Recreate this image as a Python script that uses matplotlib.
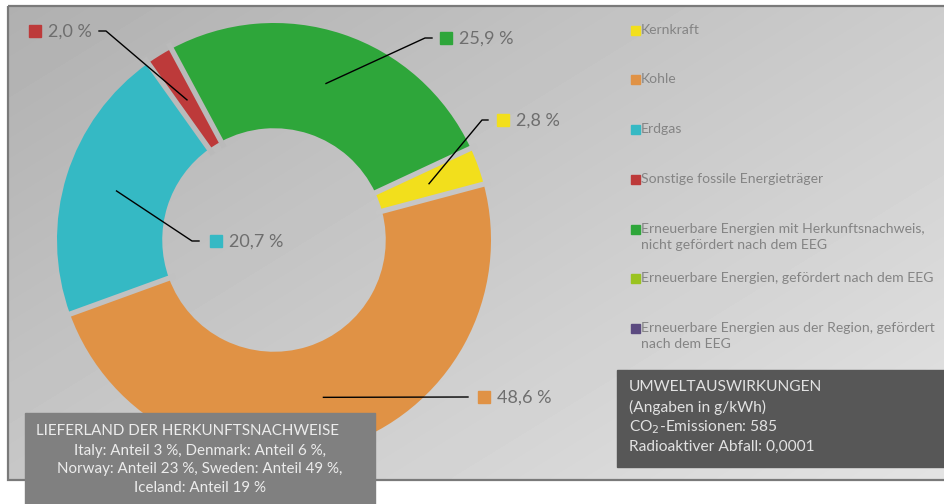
import numpy as np
import matplotlib
matplotlib.use("Agg")
import matplotlib.pyplot as plt
from matplotlib.patches import Rectangle

plt.rcParams['font.family'] = ['Lato', 'DejaVu Sans']

# ---- data ----
categories = [
    "Kernkraft",
    "Kohle",
    "Erdgas",
    "Sonstige fossile Energieträger",
    "Erneuerbare Energien mit Herkunftsnachweis,\nnicht gefördert nach dem EEG",
    "Erneuerbare Energien, gefördert nach dem EEG",
    "Erneuerbare Energien aus der Region, gefördert\nnach dem EEG",
]
values = [2.8, 48.6, 20.7, 2.0, 25.9, 0.0, 0.0]
colors = ["#f2df1c", "#e09245", "#35b9c4", "#bd3a3a", "#2ea63a", "#9ac31f", "#5b4a80"]
value_labels = ["2,8 %", "48,6 %", "20,7 %", "2,0 %", "25,9 %", "", ""]

box1_title = "LIEFERLAND DER HERKUNFTSNACHWEISE"
box1_lines = ["Italy: Anteil 3 %, Denmark: Anteil 6 %,",
              "Norway: Anteil 23 %, Sweden: Anteil 49 %,",
              "Iceland: Anteil 19 %"]
box2_lines = ["UMWELTAUSWIRKUNGEN", "(Angaben in g/kWh)",
              "CO$_2$-Emissionen: 585", "Radioaktiver Abfall: 0,0001"]

W, H = 944, 504
fig = plt.figure(figsize=(W / 100, H / 100), dpi=100)
fig.patch.set_facecolor("white")

# background axes in pixel coords
axb = fig.add_axes([0, 0, 1, 1], zorder=0)
axb.set_xlim(0, W)
axb.set_ylim(H, 0)
axb.axis("off")
px0, px1, py0, py1 = 8, 946, 6, 480
g0, gxs, gys = 0.69, 0.11, 0.09


def bg_val(x, y):
    return g0 + gxs * (x - px0) / (px1 - px0) + gys * (y - py0) / (py1 - py0)


gx = np.linspace(px0, px1, 200)
gy = np.linspace(py0, py1, 120)
GX, GY = np.meshgrid(gx, gy)
grad = bg_val(GX, GY)
axb.imshow(grad, cmap="gray", vmin=0, vmax=1, extent=(px0, px1, py1, py0),
           aspect="auto", interpolation="bilinear", zorder=0)
axb.add_patch(Rectangle((px0, py0), px1 - px0, py1 - py0, fill=False,
                        edgecolor="#7a7a7a", linewidth=1.6, zorder=1))

# pie axes
cx, cy, R = 274, 240, 217
ring = 0.485
axp = fig.add_axes([(cx - R) / W, (H - cy - R) / H, 2 * R / W, 2 * R / H], zorder=1)
axp.patch.set_alpha(0)
wedges, _ = axp.pie(values, colors=colors, startangle=25, counterclock=False,
                    radius=1.0, wedgeprops=dict(width=ring, linewidth=0))
axp.set_xlim(-1, 1)
axp.set_ylim(-1, 1)
axp.axis("off")

# gaps between slices (background-coloured separators)
for w in wedges:
    if w.theta2 - w.theta1 <= 0:
        continue
    th = np.deg2rad(w.theta1)
    rr = np.array([1 - ring - 0.03, 1.03])
    xs, ys = rr * np.cos(th), rr * np.sin(th)
    mx, my = cx + 0.75 * R * np.cos(th), cy - 0.75 * R * np.sin(th)
    v = bg_val(mx, my)
    axp.plot(xs, ys, color=(v, v, v), lw=3.8, solid_capstyle="butt", zorder=5)

# overlay axes
axt = fig.add_axes([0, 0, 1, 1], zorder=2)
axt.set_xlim(0, W)
axt.set_ylim(H, 0)
axt.axis("off")
axt.patch.set_alpha(0)

# label positions (pixel): square centre
label_pos = {0: (503, 120), 1: (484, 397), 2: (216, 241), 3: (35, 31), 4: (446, 38)}
bend = {0: (482, 488), 1: (468, 468), 2: (192, 199), 3: (106, 99), 4: (425, 432)}
for i, w in enumerate(wedges):
    if values[i] <= 0:
        continue
    mid = np.deg2rad((w.theta1 + w.theta2) / 2)
    r = 0.76 * R
    ax_ = cx + r * np.cos(mid)
    ay_ = cy - r * np.sin(mid)
    sx, sy = label_pos[i]
    b1, b2 = bend[i]
    axt.plot([ax_, b1, b2], [ay_, sy, sy], color="black", lw=1.0, zorder=3)
    axt.plot(sx, sy, marker="s", markersize=8.5, color=colors[i], zorder=3)
    axt.text(sx + 13, sy + 1, value_labels[i], fontsize=13, color="#6e6e6e",
             va="center", ha="left", zorder=3)

# legend
leg_y = [30, 79, 129, 179, 229, 278, 328]
for i, name in enumerate(categories):
    y = leg_y[i]
    axt.add_patch(Rectangle((631, y - 4.5), 9, 9, color=colors[i], zorder=3))
    axt.text(641, y - 6, name, fontsize=10.1, color="#848484", va="top", ha="left",
             linespacing=1.4, zorder=3)

# box 1
axt.add_patch(Rectangle((25, 413), 350, 95, color="#808080", zorder=4))
axt.text(36, 431, box1_title, fontsize=10.9, color="#ececec", va="center", ha="left",
         zorder=5)
for k, line in enumerate(box1_lines):
    axt.text(200, 451 + k * 18.5, line, fontsize=10.9, color="#ececec",
             va="center", ha="center", zorder=5)

# box 2
axt.add_patch(Rectangle((617, 370), 330, 97, color="#575757", zorder=4))
for k, line in enumerate(box2_lines):
    axt.text(629, 387 + k * 20.0, line, fontsize=11.2, color="#e2e2e2",
             va="center", ha="left", zorder=5)

fig.savefig("out.png", dpi=100, facecolor="white")
